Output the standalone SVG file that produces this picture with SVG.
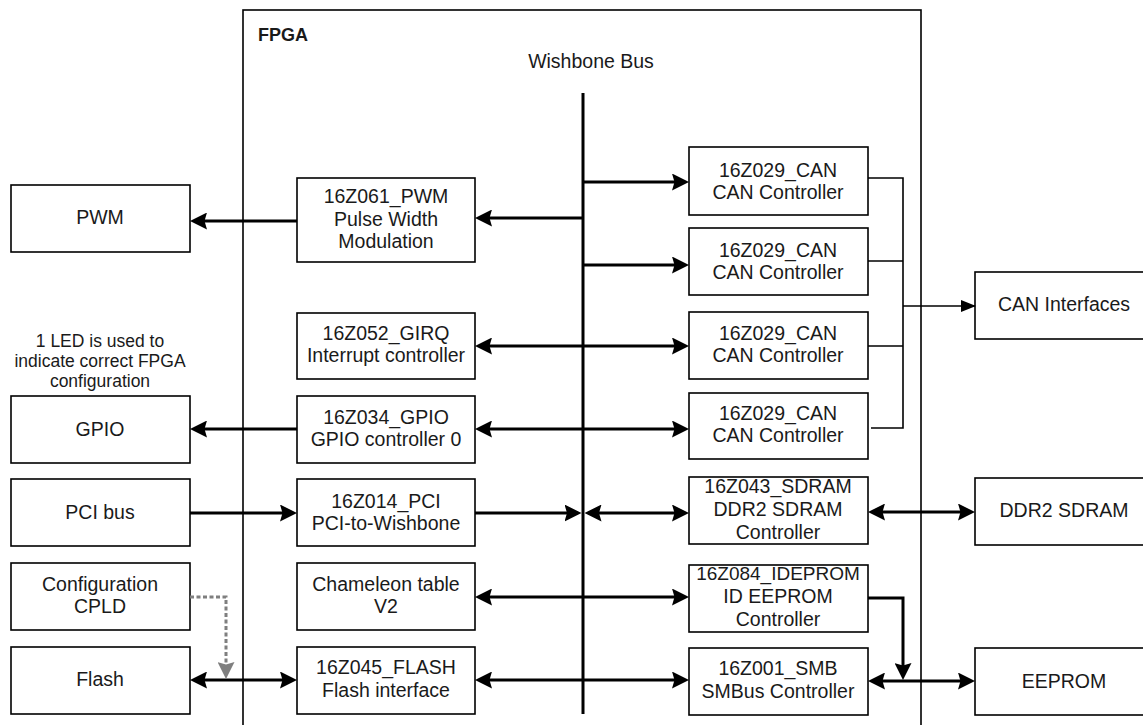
<svg xmlns="http://www.w3.org/2000/svg" width="1143" height="725" viewBox="0 0 1143 725">
  <style>
    .box { fill: #ffffff; stroke: #000000; stroke-width: 1.6; }
    .lbl { font-family: "Liberation Sans", Arial, sans-serif; font-size: 19.5px; fill: #1a1a1a; text-anchor: middle; }
    .narrow { font-size: 19px; }
    .note { font-family: "Liberation Sans", Arial, sans-serif; font-size: 17.5px; fill: #1a1a1a; text-anchor: middle; }
    .title { font-family: "Liberation Sans", Arial, sans-serif; font-size: 18px; font-weight: bold; fill: #1a1a1a; }
    .thick { fill: none; stroke: #000000; stroke-width: 3; }
    .thin { fill: none; stroke: #000000; stroke-width: 1.6; }
    .dash { fill: none; stroke: #7f7f7f; stroke-width: 3; stroke-dasharray: 4 2.5; }
  </style>
  <defs>
    <marker id="ah" viewBox="0 0 17 17" refX="13" refY="8.5" markerWidth="17" markerHeight="17" markerUnits="userSpaceOnUse" orient="auto-start-reverse">
      <path d="M0,0 L17,8.5 L0,17 L2.5,8.5 z" fill="#000000"/>
    </marker>
    <marker id="ahGray" viewBox="0 0 17 17" refX="13" refY="8.5" markerWidth="17" markerHeight="17" markerUnits="userSpaceOnUse" orient="auto-start-reverse">
      <path d="M0,0 L17,8.5 L0,17 L2.5,8.5 z" fill="#7f7f7f"/>
    </marker>
    <marker id="ahSmall" viewBox="0 0 15 12" refX="14" refY="6" markerWidth="15" markerHeight="12" markerUnits="userSpaceOnUse" orient="auto">
      <path d="M0,0 L15,6 L0,12 z" fill="#000000"/>
    </marker>
  </defs>

  <!-- FPGA outline (open at the bottom edge) -->
  <g id="fpga">
    <rect x="243" y="10" width="678" height="740" fill="none" stroke="#000000" stroke-width="1.6"/>
    <text class="title" x="258" y="41">FPGA</text>
  </g>

  <!-- Wishbone bus -->
  <g id="wishbone-bus">
    <text class="lbl" x="591" y="68">Wishbone Bus</text>
    <line x1="583" y1="93" x2="583" y2="714" stroke="#000000" stroke-width="3"/>
  </g>

  <!-- External devices, left -->
  <g id="ext-pwm">
    <rect class="box" x="11" y="185" width="179" height="67"/>
    <text class="lbl" x="100" y="224">PWM</text>
  </g>
  <g id="led-note">
    <text class="note" x="100" y="347">1 LED is used to</text>
    <text class="note" x="100" y="367">indicate correct FPGA</text>
    <text class="note" x="100" y="387">configuration</text>
  </g>
  <g id="ext-gpio">
    <rect class="box" x="11" y="396" width="179" height="67"/>
    <text class="lbl" x="100" y="436">GPIO</text>
  </g>
  <g id="ext-pci">
    <rect class="box" x="11" y="479" width="179" height="67"/>
    <text class="lbl" x="100" y="519">PCI bus</text>
  </g>
  <g id="ext-cpld">
    <rect class="box" x="11" y="563" width="179" height="67"/>
    <text class="lbl" x="100" y="591">Configuration</text>
    <text class="lbl" x="100" y="613">CPLD</text>
  </g>
  <g id="ext-flash">
    <rect class="box" x="11" y="647" width="179" height="67"/>
    <text class="lbl" x="100" y="686">Flash</text>
  </g>

  <!-- FPGA cores, left column -->
  <g id="core-pwm">
    <rect class="box" x="297" y="178" width="178" height="84"/>
    <text class="lbl" x="386" y="203">16Z061_PWM</text>
    <text class="lbl" x="386" y="226">Pulse Width</text>
    <text class="lbl" x="386" y="248">Modulation</text>
  </g>
  <g id="core-girq">
    <rect class="box" x="297" y="313" width="178" height="66"/>
    <text class="lbl" x="386" y="340">16Z052_GIRQ</text>
    <text class="lbl" x="386" y="362">Interrupt controller</text>
  </g>
  <g id="core-gpio">
    <rect class="box" x="297" y="396" width="178" height="67"/>
    <text class="lbl" x="386" y="424">16Z034_GPIO</text>
    <text class="lbl" x="386" y="446">GPIO controller 0</text>
  </g>
  <g id="core-pci">
    <rect class="box" x="297" y="479" width="178" height="67"/>
    <text class="lbl" x="386" y="508">16Z014_PCI</text>
    <text class="lbl" x="386" y="530">PCI-to-Wishbone</text>
  </g>
  <g id="core-chameleon">
    <rect class="box" x="297" y="563" width="178" height="67"/>
    <text class="lbl" x="386" y="591">Chameleon table</text>
    <text class="lbl" x="386" y="613">V2</text>
  </g>
  <g id="core-flash">
    <rect class="box" x="297" y="647" width="178" height="67"/>
    <text class="lbl" x="386" y="674">16Z045_FLASH</text>
    <text class="lbl" x="386" y="697">Flash interface</text>
  </g>

  <!-- FPGA cores, right column -->
  <g id="core-can1">
    <rect class="box" x="689" y="147" width="179" height="68"/>
    <text class="lbl" x="778" y="177">16Z029_CAN</text>
    <text class="lbl" x="778" y="199">CAN Controller</text>
  </g>
  <g id="core-can2">
    <rect class="box" x="689" y="228" width="179" height="67"/>
    <text class="lbl" x="778" y="257">16Z029_CAN</text>
    <text class="lbl" x="778" y="279">CAN Controller</text>
  </g>
  <g id="core-can3">
    <rect class="box" x="689" y="312" width="179" height="67"/>
    <text class="lbl" x="778" y="340">16Z029_CAN</text>
    <text class="lbl" x="778" y="362">CAN Controller</text>
  </g>
  <g id="core-can4">
    <rect class="box" x="689" y="393" width="179" height="66"/>
    <text class="lbl" x="778" y="420">16Z029_CAN</text>
    <text class="lbl" x="778" y="442">CAN Controller</text>
  </g>
  <g id="core-sdram">
    <rect class="box" x="689" y="477" width="179" height="67"/>
    <text class="lbl" x="778" y="493">16Z043_SDRAM</text>
    <text class="lbl" x="778" y="516">DDR2 SDRAM</text>
    <text class="lbl" x="778" y="539">Controller</text>
  </g>
  <g id="core-ideprom">
    <rect class="box" x="689" y="565" width="179" height="67"/>
    <text class="lbl narrow" x="778" y="580">16Z084_IDEPROM</text>
    <text class="lbl" x="778" y="603">ID EEPROM</text>
    <text class="lbl" x="778" y="626">Controller</text>
  </g>
  <g id="core-smb">
    <rect class="box" x="689" y="648" width="179" height="67"/>
    <text class="lbl" x="778" y="675">16Z001_SMB</text>
    <text class="lbl" x="778" y="698">SMBus Controller</text>
  </g>

  <!-- External devices, right -->
  <g id="ext-can">
    <rect class="box" x="975" y="272" width="179" height="67"/>
    <text class="lbl" x="1064" y="311">CAN Interfaces</text>
  </g>
  <g id="ext-ddr2">
    <rect class="box" x="975" y="478" width="179" height="67"/>
    <text class="lbl" x="1064" y="517">DDR2 SDRAM</text>
  </g>
  <g id="ext-eeprom">
    <rect class="box" x="975" y="648" width="179" height="67"/>
    <text class="lbl" x="1064" y="688">EEPROM</text>
  </g>

  <!-- Connectors -->
  <g id="connectors">
    <!-- bus to cores -->
    <path class="thick" d="M583,218 H479" marker-end="url(#ah)"/>
    <path class="thick" d="M583,182 H685" marker-end="url(#ah)"/>
    <path class="thick" d="M583,265 H685" marker-end="url(#ah)"/>
    <path class="thick" d="M479,346 H685" marker-start="url(#ah)" marker-end="url(#ah)"/>
    <path class="thick" d="M479,429 H685" marker-start="url(#ah)" marker-end="url(#ah)"/>
    <path class="thick" d="M475,513 H577.5" marker-end="url(#ah)"/>
    <path class="thick" d="M588.5,513 H685" marker-start="url(#ah)" marker-end="url(#ah)"/>
    <path class="thick" d="M479,597 H685" marker-start="url(#ah)" marker-end="url(#ah)"/>
    <path class="thick" d="M479,680 H685" marker-start="url(#ah)" marker-end="url(#ah)"/>

    <!-- cores to external devices, left -->
    <path class="thick" d="M297,221 H194" marker-end="url(#ah)"/>
    <path class="thick" d="M297,429 H194" marker-end="url(#ah)"/>
    <path class="thick" d="M190,513 H293" marker-end="url(#ah)"/>
    <path class="thick" d="M194,680 H293" marker-start="url(#ah)" marker-end="url(#ah)"/>
    <path class="dash" d="M190,597 H226 V675" marker-end="url(#ahGray)"/>

    <!-- cores to external devices, right -->
    <path class="thick" d="M872,512 H971" marker-start="url(#ah)" marker-end="url(#ah)"/>
    <path class="thick" d="M872,681 H971" marker-start="url(#ah)" marker-end="url(#ah)"/>
    <path class="thick" d="M868,598 H903 V676" marker-end="url(#ah)"/>

    <!-- CAN controllers joined to the CAN interfaces -->
    <path class="thin" d="M868,178 H903 V428 H871"/>
    <path class="thin" d="M868,261 H903"/>
    <path class="thin" d="M868,346 H903"/>
    <path class="thin" d="M903,306 H975" marker-end="url(#ahSmall)"/>
  </g>
</svg>
